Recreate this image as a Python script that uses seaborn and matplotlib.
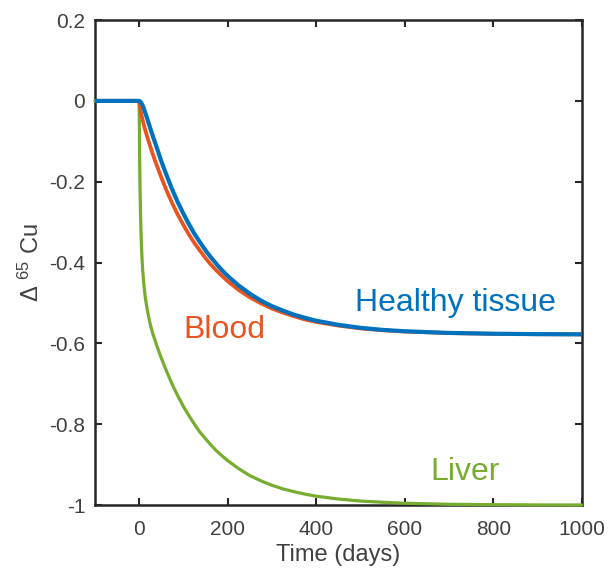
import numpy as np
import pandas as pd
import matplotlib
matplotlib.use("Agg")
import matplotlib.pyplot as plt
import seaborn as sns

# values
healthy_t = [-100, 0, 3, 6, 9, 12, 15, 20, 25, 30, 35, 40, 50, 62, 75, 87, 100, 112,
             125, 137, 150, 162, 175, 187, 200, 225, 250, 275, 300, 325, 350, 375,
             400, 450, 500, 550, 600, 700, 800, 900, 1000]
healthy_v = [0, 0, -0.002, -0.007, -0.014, -0.023, -0.033, -0.05, -0.067, -0.084,
             -0.1, -0.116, -0.149, -0.184, -0.22, -0.25, -0.279, -0.304, -0.329,
             -0.349, -0.37, -0.387, -0.404, -0.419, -0.433, -0.457, -0.477, -0.494,
             -0.508, -0.519, -0.529, -0.537, -0.544, -0.554, -0.5615, -0.5666,
             -0.57, -0.5741, -0.5761, -0.5771, -0.5776]

blood_t = [-100, 0, 2, 4, 6, 8, 10, 12, 15, 20, 25, 30, 35, 40, 50, 62, 75, 87, 100,
           112, 125, 137, 150, 162, 175, 187, 200, 225, 250, 275, 300, 325, 350,
           375, 400, 450, 500, 550, 600, 700, 800, 900, 1000]
blood_v = [0, 0, -0.014, -0.027, -0.038, -0.048, -0.057, -0.065, -0.077, -0.095,
           -0.112, -0.129, -0.145, -0.16, -0.189, -0.222, -0.254, -0.281, -0.307,
           -0.33, -0.352, -0.37, -0.389, -0.405, -0.42, -0.433, -0.446, -0.468,
           -0.486, -0.501, -0.514, -0.524, -0.533, -0.541, -0.547, -0.556, -0.563,
           -0.5675, -0.5707, -0.5745, -0.5763, -0.5773, -0.5777]

liver_t = [-100, 0, 0.5, 1, 1.5, 2, 3, 4, 5, 6, 7, 8, 9, 10, 12, 14, 17, 20, 25, 30,
           40, 50, 62, 75, 87, 100, 112, 125, 137, 150, 162, 175, 187, 200, 225,
           250, 275, 300, 325, 350, 375, 400, 450, 500, 550, 600, 700, 800, 900, 1000]
liver_v = [0, 0, -0.06, -0.12, -0.17, -0.21, -0.27, -0.315, -0.35, -0.378, -0.4,
           -0.418, -0.432, -0.445, -0.468, -0.487, -0.508, -0.526, -0.552, -0.573,
           -0.606, -0.636, -0.669, -0.702, -0.729, -0.756, -0.778, -0.8, -0.819,
           -0.836, -0.851, -0.866, -0.878, -0.89, -0.91, -0.927, -0.94, -0.951,
           -0.96, -0.967, -0.973, -0.978, -0.985, -0.99, -0.993, -0.9955, -0.998,
           -0.999, -0.9996, -0.9998]

x_ticks = [0, 200, 400, 600, 800, 1000]
y_ticks = [-1, -0.8, -0.6, -0.4, -0.2, 0, 0.2]
y_tick_labels = ["-1", "-0.8", "-0.6", "-0.4", "-0.2", "0", "0.2"]

blue = "#0072BD"
orange = "#E8531E"
green = "#77AC30"
gray = "#404040"

sns.set_style("ticks")
plt.rcParams['font.family'] = ['Liberation Sans', 'DejaVu Sans']
plt.rcParams['mathtext.default'] = 'regular'
plt.rcParams['axes.unicode_minus'] = False

fig = plt.figure(figsize=(6.08, 5.72), dpi=100)
ax = fig.add_axes([0.156, 0.117, 0.801, 0.848])

sns.lineplot(x=liver_t, y=liver_v, color=green, linewidth=2.3, ax=ax, clip_on=False, zorder=4)
sns.lineplot(x=blood_t, y=blood_v, color=orange, linewidth=2.7, ax=ax, zorder=5)
sns.lineplot(x=healthy_t, y=healthy_v, color=blue, linewidth=3.0, ax=ax, zorder=6)

ax.set_xlim(-100, 1000)
ax.set_ylim(-1, 0.2)
ax.set_xticks(x_ticks)
ax.set_yticks(y_ticks)
ax.set_yticklabels(y_tick_labels)
ax.tick_params(direction='in', length=5, width=1.5, color='#262626',
               labelsize=15, labelcolor=gray, top=True, right=True, pad=7)
ax.tick_params(axis='x', pad=11)
for side in ax.spines.values():
    side.set_visible(True)
    side.set_linewidth(1.8)
    side.set_color('#262626')

ax.set_xlabel("Time (days)", fontsize=17, color=gray, labelpad=3)
ax.set_ylabel("Δ $^{65}$ Cu", fontsize=17, color=gray, labelpad=4)

ax.text(100, -0.567, "Blood", color=orange, fontsize=23, ha='left', va='center')
ax.text(488, -0.50, "Healthy tissue", color=blue, fontsize=23, ha='left', va='center')
ax.text(657, -0.918, "Liver", color=green, fontsize=23, ha='left', va='center')

fig.savefig("out.png", dpi=100)
